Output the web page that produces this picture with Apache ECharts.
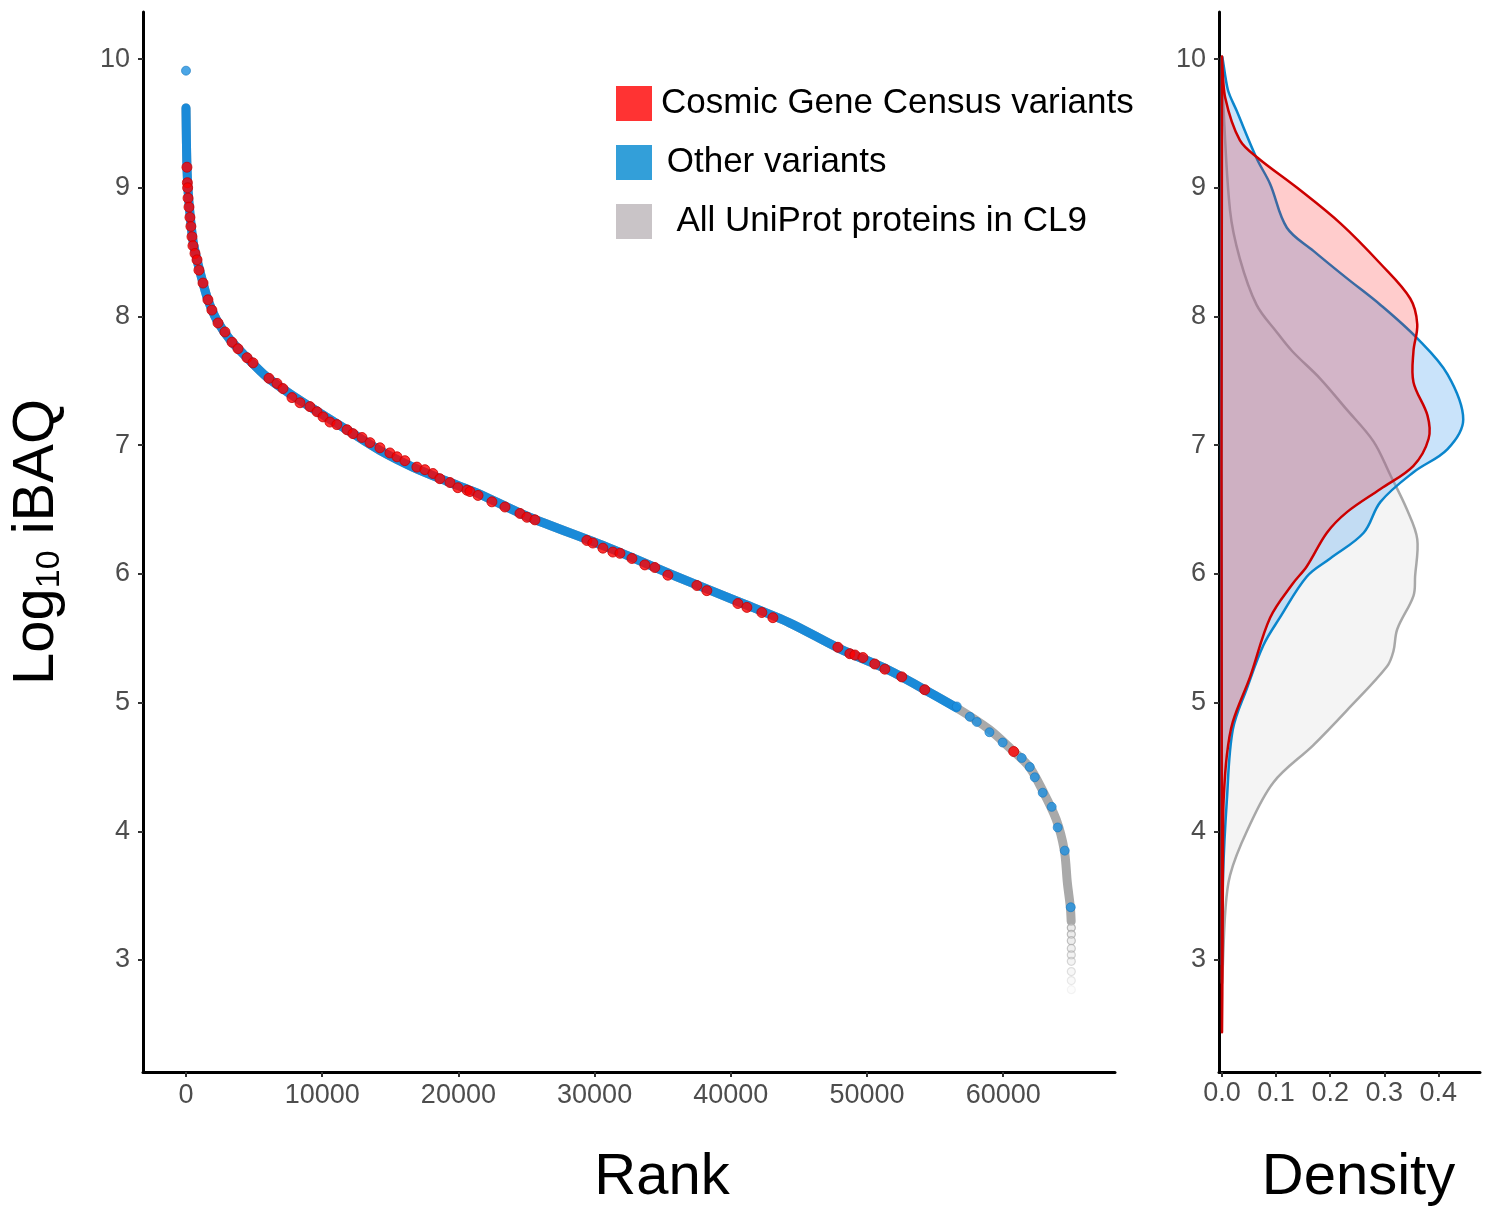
<!DOCTYPE html>
<html>
<head>
<meta charset="utf-8">
<script src="https://cdn.jsdelivr.net/npm/echarts@6/dist/echarts.min.js"></script>
<style>
  html, body { margin: 0; padding: 0; background: #fff; }
  #chart { width: 1492px; height: 1210px; }
</style>
</head>
<body>
<div id="chart"></div>
<script>
// rank vs log10 iBAQ, read along the centre of the sorted curve
const curvePoints = [
  [0, 9.62], [30, 9.37], [70, 9.16], [150, 8.98], [290, 8.80], [510, 8.59], [810, 8.44],
  [1250, 8.26], [1610, 8.13], [2270, 7.97], [3230, 7.82], [4480, 7.68], [5940, 7.53],
  [7630, 7.40], [9830, 7.25], [11810, 7.12], [14230, 6.96], [16650, 6.83], [19150, 6.72],
  [21350, 6.63], [25000, 6.45], [31100, 6.20], [36000, 5.98], [40650, 5.78], [44310, 5.62],
  [47980, 5.42], [51650, 5.25], [54070, 5.11], [56570, 4.96], [58990, 4.79], [60670, 4.63],
  [61920, 4.50], [62880, 4.32], [63900, 4.09], [64490, 3.85], [64710, 3.60], [64930, 3.41],
  [64990, 3.30]
];
const otherBandEnd = 56570;   // dense blue band stops here, single dots after

const grayTail = [
  [65000, 3.25], [65000, 3.20], [65000, 3.15], [65000, 3.09], [65000, 3.04],
  [65000, 2.99], [65000, 2.91], [65000, 2.84], [65000, 2.77]
];

const otherDots = [
  [0, 9.91], [56590, 4.97], [57550, 4.89], [58060, 4.85], [58990, 4.77], [59960, 4.69],
  [61360, 4.57], [61950, 4.50], [62320, 4.42], [62900, 4.30], [63560, 4.19],
  [64000, 4.03], [64520, 3.85], [64960, 3.41]
];

const cosmicDots = [
  [70, 9.16], [100, 9.04], [120, 9.00], [150, 8.92], [220, 8.85], [290, 8.77], [360, 8.70],
  [440, 8.62], [510, 8.55], [660, 8.49], [810, 8.44], [950, 8.36], [1250, 8.26], [1610, 8.13],
  [1900, 8.05], [2350, 7.95], [2860, 7.88], [3380, 7.80], [3820, 7.75], [4480, 7.68],
  [4920, 7.64], [6090, 7.52], [6680, 7.48], [7120, 7.44], [7780, 7.37], [8370, 7.33],
  [9100, 7.30], [9620, 7.26], [10060, 7.22], [10570, 7.18], [11080, 7.16], [11820, 7.12],
  [12260, 7.09], [12920, 7.06], [13510, 7.02], [14240, 6.98], [14970, 6.94], [15490, 6.91],
  [16070, 6.88], [16950, 6.83], [17540, 6.81], [18130, 6.78], [18640, 6.74], [19380, 6.71],
  [19960, 6.67], [20630, 6.65], [20850, 6.64], [21440, 6.61], [22460, 6.56], [23420, 6.52],
  [24520, 6.47], [25030, 6.44], [25620, 6.42], [29430, 6.26], [29870, 6.24], [30610, 6.20],
  [31340, 6.17], [31860, 6.16], [32740, 6.12], [33690, 6.07], [34420, 6.05], [35380, 5.99],
  [37510, 5.91], [38240, 5.87], [40520, 5.77], [41180, 5.74], [42280, 5.70], [43090, 5.66],
  [47860, 5.43], [48740, 5.38], [49110, 5.37], [49700, 5.35], [50570, 5.30], [51310, 5.26],
  [52550, 5.20], [54240, 5.10], [60770, 4.62]
];

// density curves: [density, log10 iBAQ]
const cosmicDensity = [
  [0, 2.47], [0.001, 3.0], [0.002, 4.0], [0.003, 4.24], [0.009, 4.59], [0.020, 4.85],
  [0.052, 5.20], [0.089, 5.66], [0.130, 5.92], [0.157, 6.06], [0.194, 6.32], [0.231, 6.48],
  [0.293, 6.66], [0.354, 6.84], [0.382, 7.05], [0.380, 7.23], [0.354, 7.49], [0.354, 7.73],
  [0.361, 7.94], [0.348, 8.14], [0.293, 8.41], [0.220, 8.72], [0.139, 9.00], [0.067, 9.23],
  [0.033, 9.37], [0.006, 9.70], [0, 10.0]
];
const otherDensity = [
  [0, 3.0], [0.002, 3.66], [0.009, 4.24], [0.020, 4.79], [0.046, 5.11], [0.077, 5.45],
  [0.107, 5.66], [0.157, 5.98], [0.200, 6.12], [0.262, 6.32], [0.293, 6.56], [0.354, 6.79],
  [0.417, 6.97], [0.446, 7.20], [0.417, 7.55], [0.361, 7.83], [0.293, 8.09], [0.230, 8.30],
  [0.169, 8.51], [0.120, 8.69], [0.089, 9.03], [0.064, 9.23], [0.027, 9.60], [0.011, 9.76],
  [0, 10.0]
];
const allDensity = [
  [0, 2.85], [0.006, 3.37], [0.015, 3.66], [0.046, 4.00], [0.095, 4.38], [0.169, 4.67],
  [0.231, 4.94], [0.305, 5.28], [0.317, 5.40], [0.324, 5.57], [0.354, 5.83], [0.357, 5.98],
  [0.361, 6.27], [0.342, 6.50], [0.311, 6.77], [0.280, 7.03], [0.230, 7.28], [0.181, 7.52],
  [0.130, 7.73], [0.101, 7.88], [0.064, 8.09], [0.033, 8.45], [0.015, 8.82], [0.002, 9.70],
  [0, 10.0]
];

const yTicks = [3, 4, 5, 6, 7, 8, 9, 10];
const rankTicks = [0, 10000, 20000, 30000, 40000, 50000, 60000];
const densityTicks = [0, 0.1, 0.2, 0.3, 0.4];

const FONT = '"Liberation Sans", Arial, sans-serif';

function densitySeries(name, points, fill, stroke, z) {
  return {
    name: name,
    type: 'custom',
    xAxisIndex: 1,
    yAxisIndex: 1,
    z: z,
    data: points,
    encode: { x: 0, y: 1 },
    silent: true,
    renderItem: function (params, api) {
      if (params.dataIndex !== 0) return null;
      const pts = points.map(function (p) { return api.coord(p); });
      return {
        type: 'polygon',
        shape: { points: pts, smooth: 0.35 },
        style: { fill: fill, stroke: stroke, lineWidth: 2.5 }
      };
    }
  };
}

const axisLine = { onZero: false, lineStyle: { color: '#000', width: 3 } };
const tickStyle = { lineStyle: { color: '#333', width: 2 }, length: 5 };
const labelStyle = { fontSize: 27, color: '#4d4d4d', fontFamily: FONT };

const chart = echarts.init(document.getElementById('chart'));
chart.setOption({
  animation: false,
  backgroundColor: '#fff',
  grid: [
    { left: 143, top: 12, width: 972, height: 1060, containLabel: false, outerBoundsMode: 'none' },
    { left: 1219, top: 12, width: 261, height: 1060, containLabel: false, outerBoundsMode: 'none' }
  ],
  legend: {
    orient: 'vertical',
    left: 616,
    top: 86,
    padding: 0,
    icon: 'rect',
    itemWidth: 36,
    itemHeight: 35,
    itemGap: 24,
    selectedMode: false,
    textStyle: {
      fontSize: 35, lineHeight: 35, color: '#000', fontFamily: FONT,
      rich: { pad: { width: 4 } }
    },
    formatter: function (name) {
      if (name === 'Other variants') return ' ' + name;
      if (name === 'All UniProt proteins in CL9') return '  ' + name;
      return '{pad|}' + name;
    },
    data: [
      { name: 'Cosmic Gene Census variants', itemStyle: { color: '#ff0000', borderWidth: 0 } },
      { name: 'Other variants', itemStyle: { color: '#339fd9', borderWidth: 0 } },
      { name: 'All UniProt proteins in CL9', itemStyle: { color: '#c9c4c7', borderWidth: 0 } }
    ]
  },
  visualMap: {
    show: false,
    type: 'continuous',
    seriesIndex: 1,
    dimension: 1,
    min: 2.77,
    max: 3.25,
    inRange: { opacity: [0.12, 0.85] }
  },
  xAxis: [
    {
      type: 'value', gridIndex: 0, min: -3157, max: 68208,
      name: 'Rank', nameLocation: 'middle', nameGap: 77,
      nameTextStyle: { fontSize: 58, color: '#000', fontFamily: FONT, padding: [0, 0, 0, 66] },
      axisLine: axisLine,
      axisTick: Object.assign({ customValues: rankTicks }, tickStyle),
      axisLabel: Object.assign({
        customValues: rankTicks, margin: 10,
        formatter: function (v) { return String(v); }
      }, labelStyle),
      splitLine: { show: false }
    },
    {
      type: 'value', gridIndex: 1, min: -0.0055, max: 0.477,
      name: 'Density', nameLocation: 'middle', nameGap: 77,
      nameTextStyle: { fontSize: 58, color: '#000', fontFamily: FONT, padding: [0, 0, 0, 18] },
      axisLine: axisLine,
      axisTick: Object.assign({ customValues: densityTicks }, tickStyle),
      axisLabel: Object.assign({
        customValues: densityTicks, margin: 8,
        formatter: function (v) { return v.toFixed(1); }
      }, labelStyle),
      splitLine: { show: false }
    }
  ],
  yAxis: [
    {
      type: 'value', gridIndex: 0, min: 2.13, max: 10.366,
      name: '{a|Log}{b|10}{a| iBAQ}', nameLocation: 'middle', nameRotate: 90, nameGap: 76,
      nameTextStyle: {
        color: '#000', fontFamily: FONT,
        rich: {
          a: { fontSize: 58, color: '#000', fontFamily: FONT, lineHeight: 60 },
          b: { fontSize: 34, color: '#000', fontFamily: FONT, verticalAlign: 'bottom', lineHeight: 34, padding: [22, 0, 0, 0] }
        }
      },
      axisLine: axisLine,
      axisTick: Object.assign({ customValues: yTicks }, tickStyle),
      axisLabel: Object.assign({ customValues: yTicks, margin: 13 }, labelStyle),
      splitLine: { show: false }
    },
    {
      type: 'value', gridIndex: 1, min: 2.13, max: 10.366,
      axisLine: axisLine,
      axisTick: Object.assign({ customValues: yTicks }, tickStyle),
      axisLabel: Object.assign({ customValues: yTicks, margin: 13 }, labelStyle),
      splitLine: { show: false }
    }
  ],
  series: [
    {
      name: 'All UniProt proteins in CL9',
      type: 'line', xAxisIndex: 0, yAxisIndex: 0, z: 1,
      data: curvePoints, smooth: 0.3, showSymbol: false, silent: true,
      lineStyle: { color: '#a9a9a9', width: 9, cap: 'round', join: 'round' }
    },
    {
      name: 'All UniProt proteins in CL9',
      type: 'scatter', xAxisIndex: 0, yAxisIndex: 0, z: 2,
      data: grayTail, symbolSize: 8,
      itemStyle: { color: 'rgba(220,220,220,0.7)', borderColor: '#a9a9a9', borderWidth: 1.2 }
    },
    {
      name: 'Other variants',
      type: 'line', xAxisIndex: 0, yAxisIndex: 0, z: 3,
      data: curvePoints.filter(function (p) { return p[0] <= otherBandEnd; }),
      smooth: 0.3, showSymbol: false, silent: true,
      lineStyle: { color: '#1a8ad8', width: 9, cap: 'round', join: 'round' }
    },
    {
      name: 'Other variants',
      type: 'scatter', xAxisIndex: 0, yAxisIndex: 0, z: 4,
      data: otherDots, symbolSize: 9,
      itemStyle: { color: '#1e90e0', borderColor: '#1478c0', borderWidth: 0.8 }
    },
    {
      name: 'Cosmic Gene Census variants',
      type: 'scatter', xAxisIndex: 0, yAxisIndex: 0, z: 5,
      data: cosmicDots, symbolSize: 10,
      itemStyle: { color: '#ff0000', borderColor: '#c80000', borderWidth: 1 }
    },
    densitySeries('All density', allDensity, 'rgba(190,190,190,0.17)', '#a8a8a8', 1),
    densitySeries('Other density', otherDensity, 'rgba(100,175,240,0.35)', '#0a85cc', 2),
    densitySeries('Cosmic density', cosmicDensity, 'rgba(255,0,0,0.2)', '#cc0000', 3)
  ]
});
</script>
</body>
</html>
